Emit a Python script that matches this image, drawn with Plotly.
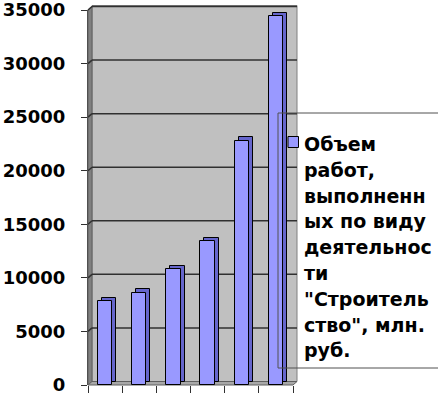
import plotly.graph_objects as go

# ---- data ----
categories = ["1", "2", "3", "4", "5", "6"]
values = [7800, 8600, 10800, 13400, 22800, 34400]
series_name = 'Объем работ, выполненных по виду деятельности "Строительство", млн. руб.'
legend_lines = ["Объем", "работ,", "выполненн", "ых по виду", "деятельнос", "ти",
                "\"Строитель", "ство\", млн.", "руб."]
y_ticks = [0, 5000, 10000, 15000, 20000, 25000, 30000, 35000]
y_tick_labels = ["0", "5000", "10000", "15000", "20000", "25000", "30000", "35000"]

# ---- geometry (pixels) ----
W, H = 438, 395
L, T = 88, 10
PW, PH = 205, 375
R = W - L - PW
B = H - T - PH
YMAX = 35000
DX, DY = 4, 3.5  # 3D depth offset in px
cat_px = PW / len(categories)
bar_w = 0.42
depth_off = DX / cat_px
depth_base = DY * YMAX / PH


def px_x(px):
    return (px - L) / PW


def px_y(py):
    return (T + PH - py) / PH


front_col = "#9999FF"
side_col = "#6666CC"

fig = go.Figure()
# depth (side/top) faces
fig.add_trace(go.Bar(
    x=categories, y=values, base=[depth_base] * len(values),
    width=bar_w, offset=-bar_w / 2 + depth_off,
    marker=dict(color=side_col, line=dict(color="#000000", width=1)),
    showlegend=False, hoverinfo="skip"))
# front faces
fig.add_trace(go.Bar(
    x=categories, y=values, name=series_name,
    width=bar_w, offset=-bar_w / 2,
    marker=dict(color=front_col, line=dict(color="#000000", width=1)),
    showlegend=False))

shapes = []
# back wall
shapes.append(dict(type="rect", xref="paper", yref="paper",
                   x0=px_x(L + DX), x1=px_x(L + PW + DX), y0=px_y(T + PH - DY), y1=px_y(T - DY - 1),
                   fillcolor="#C0C0C0", line=dict(color="#808080", width=1), layer="below"))
# left side wall
shapes.append(dict(type="path", xref="paper", yref="paper",
                   path=f"M{px_x(L)},{px_y(T + PH)} L{px_x(L)},{px_y(T)} L{px_x(L + DX)},{px_y(T - DY)} "
                        f"L{px_x(L + DX)},{px_y(T + PH - DY)} Z",
                   fillcolor="#808080", line=dict(color="#606060", width=1), layer="below"))
# floor
shapes.append(dict(type="path", xref="paper", yref="paper",
                   path=f"M{px_x(L)},{px_y(T + PH)} L{px_x(L + PW)},{px_y(T + PH)} "
                        f"L{px_x(L + PW + DX)},{px_y(T + PH - DY)} L{px_x(L + DX)},{px_y(T + PH - DY)} Z",
                   fillcolor="#A8A8A8", line=dict(color="#606060", width=1), layer="below"))
# gridlines on back wall + diagonal on side wall
for v in y_ticks[1:]:
    yb = v / YMAX + DY / PH
    yf = v / YMAX
    shapes.append(dict(type="line", xref="paper", yref="paper",
                       x0=px_x(L + DX), x1=px_x(L + PW + DX), y0=yb, y1=yb,
                       line=dict(color="#303030", width=1.5), layer="below"))
    shapes.append(dict(type="line", xref="paper", yref="paper",
                       x0=0, x1=px_x(L + DX), y0=yf, y1=yb,
                       line=dict(color="#303030", width=1.5), layer="below"))
# legend box
shapes.append(dict(type="rect", xref="paper", yref="paper",
                   x0=px_x(278), x1=px_x(W + 20), y0=px_y(368), y1=px_y(113),
                   fillcolor="rgba(0,0,0,0)", line=dict(color="#505050", width=1), layer="above"))
# legend key
shapes.append(dict(type="rect", xref="paper", yref="paper",
                   x0=px_x(288), x1=px_x(298.5), y0=px_y(147.5), y1=px_y(136.5),
                   fillcolor=front_col, line=dict(color="#000000", width=1), layer="above"))

annotations = []
line_step = 25.8
for i, line in enumerate(legend_lines):
    annotations.append(dict(
        xref="paper", yref="paper", x=px_x(302), y=px_y(144 + i * line_step),
        xanchor="left", yanchor="middle", align="left", showarrow=False, text=line,
        font=dict(family="DejaVu Sans", size=19, color="black", weight="bold")))

fig.update_layout(
    width=W, height=H,
    margin=dict(l=L, r=R, t=T, b=B, pad=0, autoexpand=False),
    paper_bgcolor="white", plot_bgcolor="rgba(0,0,0,0)",
    barmode="overlay", bargap=0,
    shapes=shapes,
    annotations=annotations,
    font=dict(family="DejaVu Sans", color="black"),
)
fig.update_xaxes(
    type="category", range=[-0.5, len(categories) - 0.5], automargin=False,
    showticklabels=False, tickson="boundaries", ticks="outside", ticklen=7,
    tickcolor="#303030", showgrid=False, showline=False, zeroline=False, fixedrange=True)
fig.update_yaxes(
    range=[0, YMAX], tickmode="array", tickvals=y_ticks, ticktext=y_tick_labels,
    automargin=False, ticks="outside", ticklen=6, tickcolor="#303030",
    showgrid=False, showline=True, linecolor="#505050", zeroline=False,
    tickfont=dict(family="DejaVu Sans", size=18, color="black", weight="bold"),
    ticklabelstandoff=12, ticklabeloverflow="allow", fixedrange=True)

fig.write_html("out.html", config={"displayModeBar": False},
               post_script="document.body.style.margin='0';document.body.style.overflow='hidden';")
